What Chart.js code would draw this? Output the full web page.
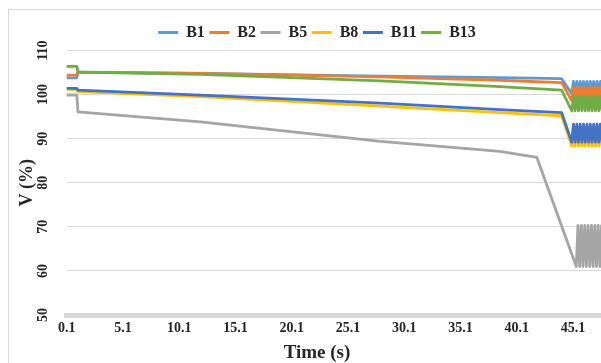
<!DOCTYPE html>
<html>
<head>
<meta charset="utf-8">
<script src="https://cdn.jsdelivr.net/npm/chart.js@4.4.1/dist/chart.umd.min.js"></script>
<style>
  html, body { margin: 0; padding: 0; background: #fff; }
  #wrap { position: relative; width: 601px; height: 363px; overflow: hidden; }
  #frame { position: absolute; left: 8px; top: 9px; width: 700px; height: 500px;
           border: 1px solid #d9d9d9; box-sizing: border-box; }
  canvas { position: absolute; left: 0; top: 0; }
</style>
</head>
<body>
<div id="wrap">
  <div id="frame"></div>
  <canvas id="chart" width="601" height="363"></canvas>
</div>
<script>
// Bus names and line colours
const seriesNames  = ['B1', 'B2', 'B5', 'B8', 'B11', 'B13'];
const seriesColors = ['#5B9BD5', '#ED7D31', '#A5A5A5', '#FFC000', '#4472C4', '#70AD47'];

// Axis ticks and titles
const xTickLabels = [0.1, 5.1, 10.1, 15.1, 20.1, 25.1, 30.1, 35.1, 40.1, 45.1];
const yTickValues = [50, 60, 70, 80, 90, 100, 110];
const xTitle = 'Time (s)';
const yTitle = 'V (%)';

// Time instants (s) for the pre-fault part and the oscillating tail
const timesMain = [0.1, 1.0, 1.1, 12.0, 28.0, 38.6, 44.1];
const timesOsc  = [45.0, 45.15, 45.3, 45.45, 45.6, 45.75, 45.9, 46.05, 46.2, 46.35,
                   46.5, 46.65, 46.8, 46.95, 47.1, 47.25, 47.4, 47.55, 47.7];
const timesB5   = [0.1, 1.0, 1.1, 12.0, 28.0, 38.6, 41.9,
                   45.4, 45.55, 45.7, 45.85, 46.0, 46.15, 46.3, 46.45, 46.6, 46.75,
                   46.9, 47.05, 47.2, 47.35, 47.5, 47.65];

// Voltage (%) per bus
const vB1  = [103.8, 103.8, 105.1, 104.8, 104.2, 103.85, 103.6,
              100.2, 103.0, 100.2, 103.0, 100.2, 103.0, 100.2, 103.0, 100.2, 103.0,
              100.2, 103.0, 100.2, 103.0, 100.2, 103.0, 100.2, 103.0, 100.2];
const vB2  = [104.4, 104.4, 105.1, 104.8, 104.0, 103.25, 102.7,
              98.6, 101.6, 98.6, 101.6, 98.6, 101.6, 98.6, 101.6, 98.6, 101.6,
              98.6, 101.6, 98.6, 101.6, 98.6, 101.6, 98.6, 101.6, 98.6];
const vB5  = [99.9, 99.9, 96.1, 93.8, 89.4, 87.1, 85.75,
              61.0, 70.3, 61.0, 70.3, 61.0, 70.3, 61.0, 70.3, 61.0, 70.3,
              61.0, 70.3, 61.0, 70.3, 61.0, 70.3];
const vB8  = [101.2, 101.2, 100.7, 99.55, 97.4, 95.9, 95.2,
              88.3, 92.5, 88.3, 92.5, 88.3, 92.5, 88.3, 92.5, 88.3, 92.5,
              88.3, 92.5, 88.3, 92.5, 88.3, 92.5, 88.3, 92.5, 88.3];
const vB11 = [101.4, 101.4, 101.0, 99.9, 98.05, 96.6, 95.9,
              89.2, 93.3, 89.2, 93.3, 89.2, 93.3, 89.2, 93.3, 89.2, 93.3,
              89.2, 93.3, 89.2, 93.3, 89.2, 93.3, 89.2, 93.3, 89.2];
const vB13 = [106.4, 106.4, 105.1, 104.6, 103.1, 101.8, 101.0,
              96.3, 99.5, 96.3, 99.5, 96.3, 99.5, 96.3, 99.5, 96.3, 99.5,
              96.3, 99.5, 96.3, 99.5, 96.3, 99.5, 96.3, 99.5, 96.3];

const timesFull = timesMain.concat(timesOsc);
const seriesTimes  = [timesFull, timesFull, timesB5, timesFull, timesFull, timesFull];
const seriesValues = [vB1, vB2, vB5, vB8, vB11, vB13];

const FONT = '"Liberation Serif", "Times New Roman", serif';
const TEXT = '#262626';
const CENTER_X = 317;   // horizontal centre of the chart frame

const datasets = seriesNames.map((name, i) => ({
  label: name,
  data: seriesTimes[i].map((t, k) => ({ x: t, y: seriesValues[i][k] })),
  borderColor: seriesColors[i],
  backgroundColor: seriesColors[i],
  borderWidth: 2.8,
  borderJoinStyle: 'round',
  borderCapStyle: 'round',
  pointRadius: 0,
  tension: 0,
  order: seriesNames.length - i   // later buses are painted on top
}));

// Vertical y tick labels, x-axis title centred on the frame, legend re-centred
const decorPlugin = {
  id: 'decor',
  afterLayout(chart) {
    const lg = chart.legend;
    if (lg) {
      const mid = (lg.left + lg.right) / 2;
      lg.left += 2 * (CENTER_X - mid);
    }
  },
  afterDraw(chart) {
    const s = chart.scales.y;
    const ctx = chart.ctx;
    ctx.save();
    ctx.fillStyle = TEXT;
    ctx.textAlign = 'center';
    ctx.textBaseline = 'middle';
    ctx.font = 'bold 14px ' + FONT;
    s.ticks.forEach(t => {
      ctx.save();
      ctx.translate(43.5, s.getPixelForValue(t.value));
      ctx.rotate(-Math.PI / 2);
      ctx.fillText(String(t.value), 0, 0);
      ctx.restore();
    });
    ctx.font = 'bold 19px ' + FONT;
    ctx.fillText(xTitle, CENTER_X, 353);
    ctx.restore();
  }
};

new Chart(document.getElementById('chart'), {
  type: 'line',
  data: { datasets },
  plugins: [decorPlugin],
  options: {
    responsive: false,
    animation: false,
    layout: { padding: { left: 8, right: 0, top: 20, bottom: 0 } },
    plugins: {
      tooltip: { enabled: false },
      legend: {
        position: 'top',
        align: 'center',
        labels: {
          usePointStyle: true,
          pointStyle: 'line',
          pointStyleWidth: 20,
          padding: 4.5,
          color: TEXT,
          font: { family: FONT, size: 16, weight: 'bold' },
          sort: (a, b) => a.datasetIndex - b.datasetIndex
        }
      }
    },
    scales: {
      x: {
        type: 'linear',
        min: 0.1,
        max: 47.6,
        afterBuildTicks: s => { s.ticks = xTickLabels.map(v => ({ value: v })); },
        afterFit: s => { s.height = 48; },
        ticks: {
          autoSkip: false,
          maxRotation: 0,
          padding: 5,
          color: TEXT,
          font: { family: FONT, size: 14, weight: 'bold' },
          callback: v => Number(v).toFixed(1)
        },
        grid: { display: false, drawTicks: false },
        border: { display: true, color: '#d9d9d9', width: 5, dash: [1, 1] },
        title: { display: false }
      },
      y: {
        min: 50,
        max: 110,
        afterBuildTicks: s => { s.ticks = yTickValues.map(v => ({ value: v })); },
        afterFit: s => { s.width = 58.7; },
        ticks: { display: false },
        grid: { color: '#d9d9d9', lineWidth: 1, drawTicks: false },
        border: { display: false },
        title: {
          display: true, text: yTitle, color: TEXT,
          font: { family: FONT, size: 18, weight: 'bold' },
          padding: { top: 9, bottom: 0 }
        }
      }
    }
  }
});
</script>
</body>
</html>
